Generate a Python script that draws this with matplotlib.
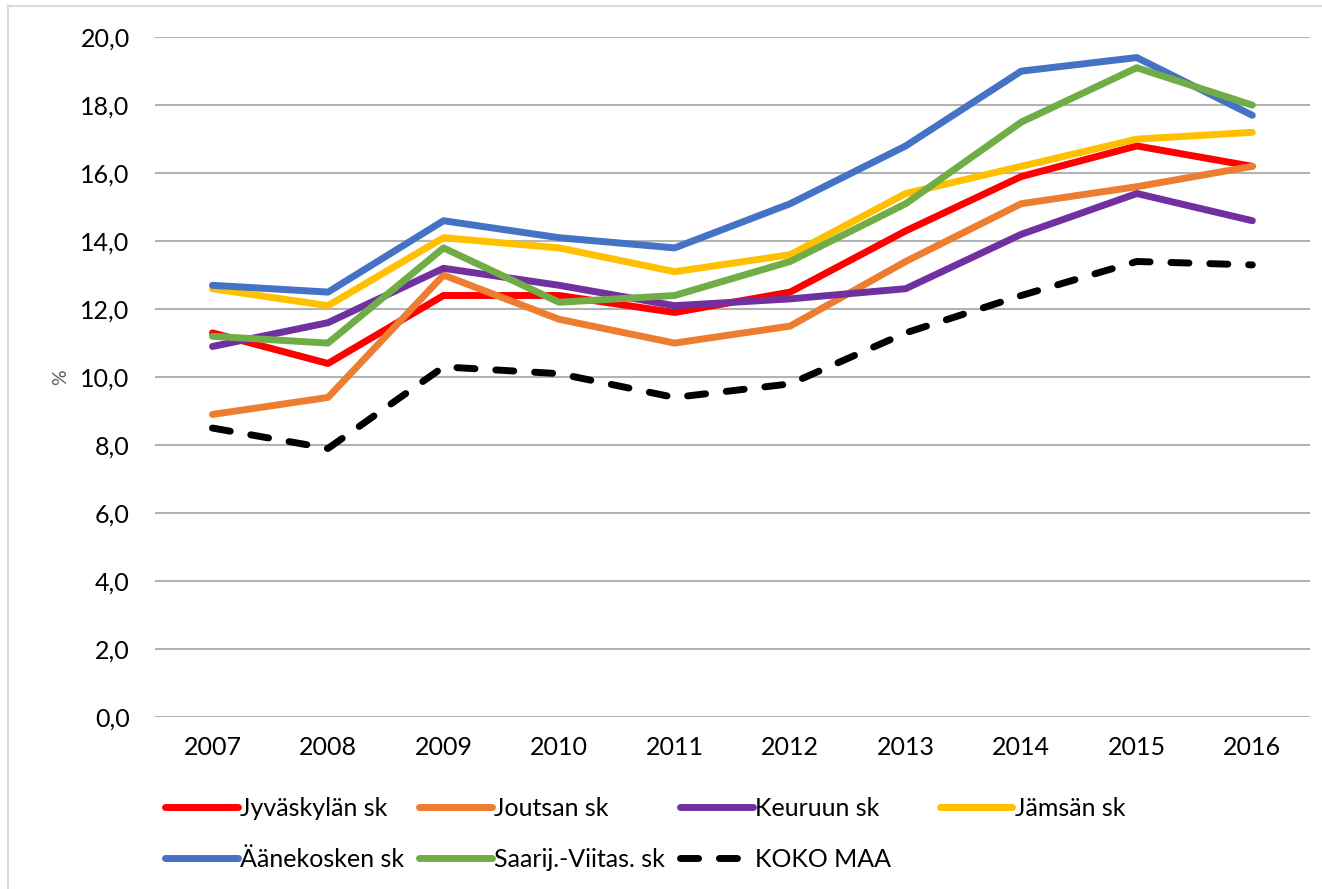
import matplotlib
matplotlib.use('Agg')
from matplotlib import pyplot as plt
from matplotlib.lines import Line2D

plt.rcParams['font.family'] = ['Lato', 'DejaVu Sans']

years = ['2007', '2008', '2009', '2010', '2011', '2012', '2013', '2014', '2015', '2016']

jyvaskyla = [11.3, 10.4, 12.4, 12.4, 11.9, 12.5, 14.3, 15.9, 16.8, 16.2]
joutsa = [8.9, 9.4, 13.0, 11.7, 11.0, 11.5, 13.4, 15.1, 15.6, 16.2]
keuruu = [10.9, 11.6, 13.2, 12.7, 12.1, 12.3, 12.6, 14.2, 15.4, 14.6]
jamsa = [12.6, 12.1, 14.1, 13.8, 13.1, 13.6, 15.4, 16.2, 17.0, 17.2]
aanekoski = [12.7, 12.5, 14.6, 14.1, 13.8, 15.1, 16.8, 19.0, 19.4, 17.7]
saarij_viitas = [11.2, 11.0, 13.8, 12.2, 12.4, 13.4, 15.1, 17.5, 19.1, 18.0]
koko_maa = [8.5, 7.9, 10.3, 10.1, 9.4, 9.8, 11.3, 12.4, 13.4, 13.3]

labels = ['Jyväskylän sk', 'Joutsan sk', 'Keuruun sk', 'Jämsän sk',
          'Äänekosken sk', 'Saarij.-Viitas. sk', 'KOKO MAA']
colors = ['#FF0000', '#ED7D31', '#7030A0', '#FFC000', '#4472C4', '#70AD47', '#000000']
series = [jyvaskyla, joutsa, keuruu, jamsa, aanekoski, saarij_viitas, koko_maa]

fig = plt.figure(figsize=(13.22, 8.89), dpi=100)
ax = fig.add_axes([0.117, 0.1935, 0.874, 0.7647])

x = range(len(years))
lines = []
for vals, lab, col in zip(series, labels, colors):
    if lab == 'KOKO MAA':
        ln, = ax.plot(x, vals, color=col, lw=5, label=lab, linestyle=(0, (2.6, 3.0)),
                      dash_capstyle='round', solid_joinstyle='round')
    else:
        ln, = ax.plot(x, vals, color=col, lw=5, label=lab,
                      solid_capstyle='round', solid_joinstyle='round')
    lines.append(ln)

ax.set_xlim(-0.5, 9.5)
ax.set_ylim(0, 20)
ax.set_xticks(list(x))
ax.set_xticklabels(years)
ax.set_yticks(range(0, 21, 2))
ax.yaxis.set_major_formatter(plt.FuncFormatter(lambda v, p: ('%.1f' % v).replace('.', ',')))
ax.tick_params(axis='both', length=0, labelsize=18, colors='#000000')
ax.tick_params(axis='y', pad=18)
ax.tick_params(axis='x', pad=14)
ax.grid(axis='y', color='#b3b3b3', lw=1.5)
ax.set_axisbelow(True)
for s in ax.spines.values():
    s.set_visible(False)
ax.set_ylabel('%', fontsize=14, color='#595959', labelpad=8)

# legend: first three columns (filled column by column), then the lone 4th column
leg_kw = dict(loc='upper left', frameon=False, fontsize=18, handlelength=2.9,
              handletextpad=0.1, columnspacing=0.6, labelspacing=1.12,
              borderaxespad=0, borderpad=0)
order = [0, 4, 1, 5, 2, 6]
fig.legend([lines[i] for i in order], [labels[i] for i in order],
           bbox_to_anchor=(0.125, 0.104), ncol=3, **leg_kw)
fig.legend([lines[3]], [labels[3]], bbox_to_anchor=(0.711, 0.104), ncol=1, **leg_kw)

# chart frame (only top and left edges fall inside the image)
fig.add_artist(Line2D([8 / 1322, 1], [1 - 6 / 889, 1 - 6 / 889], transform=fig.transFigure,
                      color='#d9d9d9', lw=1.5))
fig.add_artist(Line2D([8 / 1322, 8 / 1322], [0, 1 - 6 / 889], transform=fig.transFigure,
                      color='#d9d9d9', lw=1.5))

plt.savefig('out.png', dpi=100)
